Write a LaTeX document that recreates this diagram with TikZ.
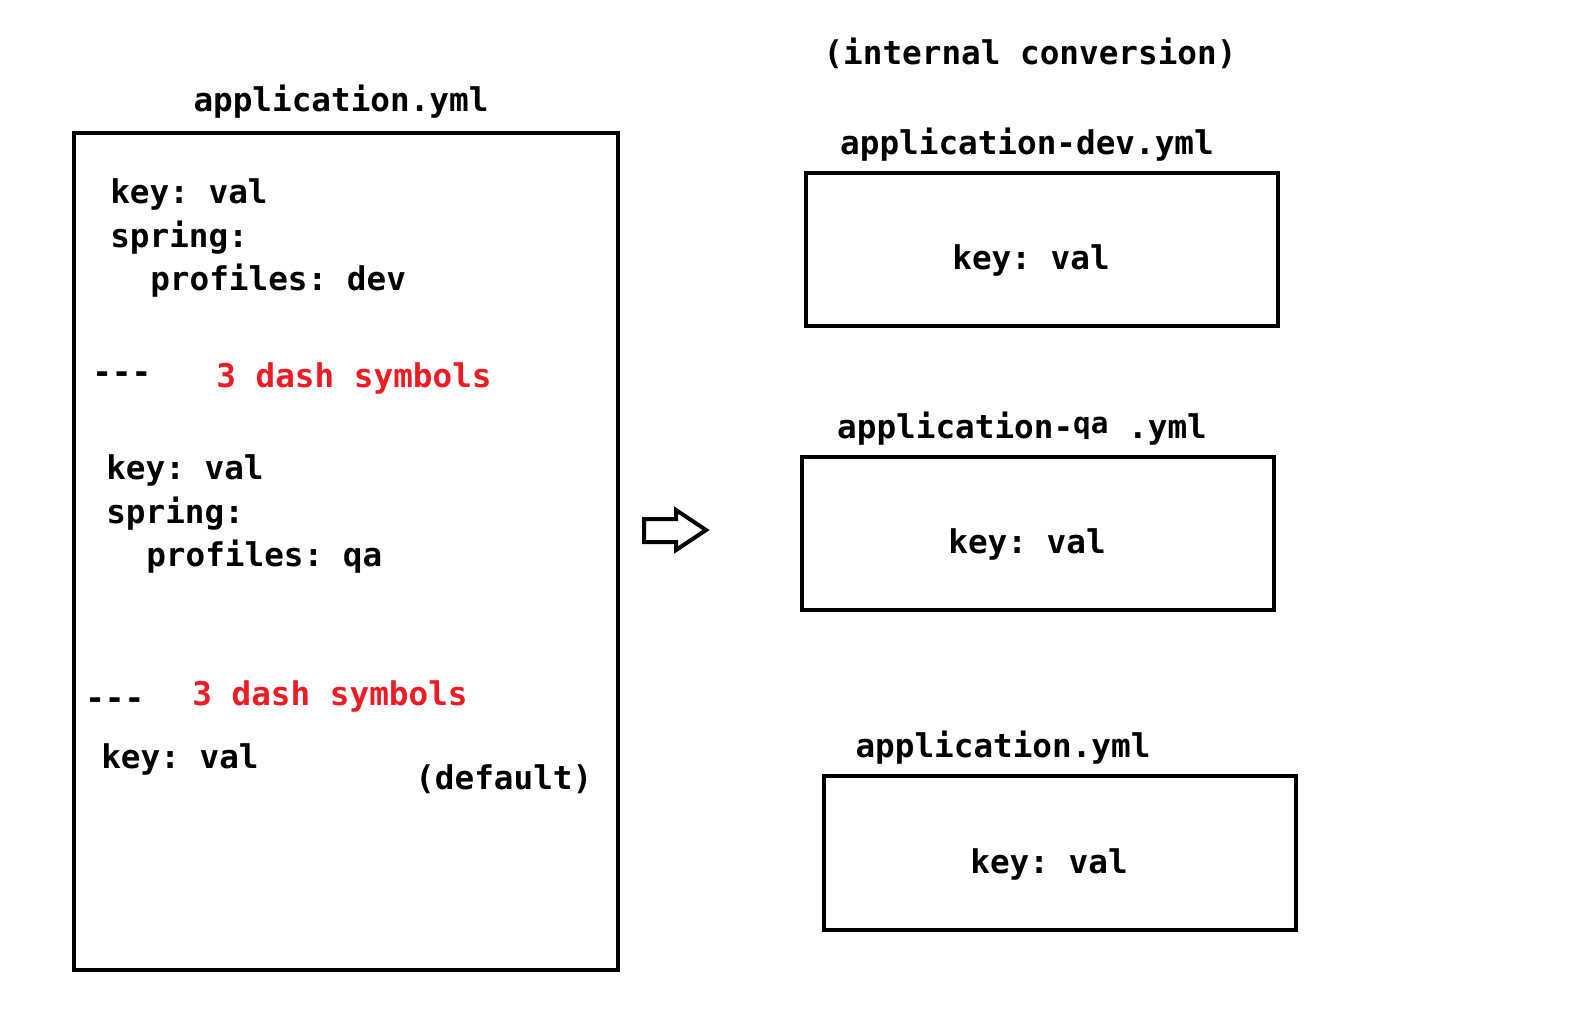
\documentclass[tikz,border=0pt]{standalone}
\usepackage{fontspec}
\setmonofont{DejaVu Sans Mono}
\usepackage{xcolor}
\usetikzlibrary{positioning}
\definecolor{dashred}{RGB}{237,28,36}

\begin{document}
\begin{tikzpicture}[x=0.75pt, y=-0.75pt,
        code/.style={inner sep=0pt, anchor=mid west, yshift=-6.75pt, font=\ttfamily\bfseries\fontsize{24.5}{28}\selectfont},
        note/.style={code, text=dashred},
        title/.style={code, anchor=mid},
        file/.style={draw, line width=3pt},
        conv/.style={draw, line width=3pt, line join=miter}]
        \useasboundingbox (0,0) rectangle (1570,1014);
        % the one yml file with several documents
        \draw[file] (74,133) rectangle (618,970);
        \node[title] (main) at (341,100) {application.yml};
        \node[code] (k1) at (110,192) {key: val};
        \node[code] (s1) at (110,236) {spring:};
        \node[code] (p1) at (150,279) {profiles: dev};
        \node[code] (d1) at (92,372) {-{}-{}-};
        \node[note] (n1) at (216,376) {3 dash symbols};
        \node[code] (k2) at (106,468) {key: val};
        \node[code] (s2) at (106,512) {spring:};
        \node[code] (p2) at (146,555) {profiles: qa};
        \node[code] (d2) at (85,698) {-{}-{}-};
        \node[note] (n2) at (192,694) {3 dash symbols};
        \node[code] (k3) at (101,757) {key: val};
        \node[code] (def) at (415,778) {(default)};
        % arrow
        \draw[conv] (644,519) -- (676,519) -- (676,510) -- (706,530) -- (676,550)
            -- (676,542) -- (644,542) -- cycle;
        % the converted files
        \node[title] (intern) at (1030,53) {(internal conversion)};
        \draw[file] (806,173) rectangle (1278,326);
        \node[title] (dev) at (1027,143) {application-dev.yml};
        \node[title] (kd) at (1031,258) {key: val};
        \draw[file] (802,457) rectangle (1274,610);
        \node[title] (qa) at (1022,427) {application-\raisebox{4pt}{\fontsize{22}{24}\selectfont qa} .yml};
        \node[title] (kq) at (1027,542) {key: val};
        \draw[file] (824,776) rectangle (1296,930);
        \node[title] (dflt) at (1003,746) {application.yml};
        \node[title] (kf) at (1049,862) {key: val};
\end{tikzpicture}
\end{document}
